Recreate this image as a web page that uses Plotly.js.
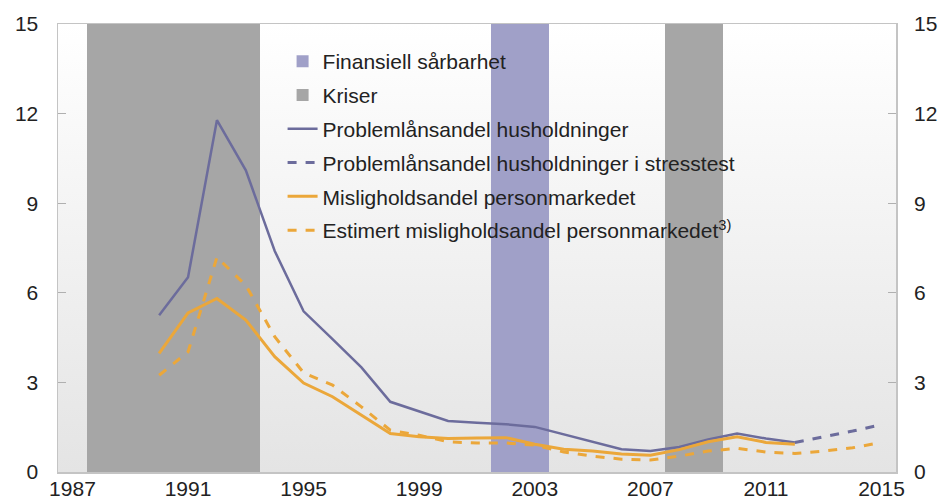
<!DOCTYPE html>
<html>
<head>
<meta charset="utf-8">
<script src="https://cdn.plot.ly/plotly-3.0.1.min.js"></script>
<style>html,body{margin:0;padding:0;background:#fff;}#chart{width:946px;height:504px;}</style>
</head>
<body>
<div id="chart"></div>
<script>
// Years (x categories)
const years = [1987,1988,1989,1990,1991,1992,1993,1994,1995,1996,1997,1998,1999,2000,2001,2002,2003,2004,2005,2006,2007,2008,2009,2010,2011,2012,2013,2014,2015];
const xTickVals = [1987,1991,1995,1999,2003,2007,2011,2015];
const yTickVals = [0,3,6,9,12,15];

// Shaded periods (years flagged)
const kriserYears = [1988,1989,1990,1991,1992,1993,2008,2009];
const sarbarhetYears = [2002,2003];
const bandHeight = 15;

// Problemlånsandel husholdninger (1990-2012)
const probYears = [1990,1991,1992,1993,1994,1995,1996,1997,1998,1999,2000,2001,2002,2003,2004,2005,2006,2007,2008,2009,2010,2011,2012];
const probVals  = [5.25,6.52,11.78,10.1,7.4,5.38,4.45,3.5,2.35,2.02,1.71,1.65,1.6,1.51,1.26,1.01,0.76,0.7,0.84,1.09,1.29,1.12,0.99];

// Problemlånsandel husholdninger i stresstest (2012-2015)
const stressYears = [2012,2013,2014,2015];
const stressVals  = [0.99,1.18,1.37,1.59];

// Misligholdsandel personmarkedet (1990-2012)
const misYears = probYears;
const misVals  = [3.97,5.33,5.81,5.09,3.86,2.98,2.52,1.9,1.29,1.18,1.12,1.14,1.15,0.93,0.76,0.7,0.6,0.56,0.75,1.01,1.18,0.99,0.93];

// Estimert misligholdsandel personmarkedet (1990-2015)
const estYears = [1990,1991,1992,1993,1994,1995,1996,1997,1998,1999,2000,2001,2002,2003,2004,2005,2006,2007,2008,2009,2010,2011,2012,2013,2014,2015];
const estVals  = [3.24,4.02,7.19,6.25,4.53,3.32,2.91,2.18,1.4,1.23,1.01,0.97,0.97,0.9,0.67,0.53,0.43,0.4,0.53,0.7,0.79,0.67,0.62,0.7,0.81,0.99];

const PURPLE = '#6c6c9c';
const ORANGE = '#eba73a';
const FONT = 'Liberation Sans, Arial, sans-serif';

const gradSvg = '<svg xmlns="http://www.w3.org/2000/svg" width="10" height="100" preserveAspectRatio="none"><defs><linearGradient id="g" x1="0" y1="0" x2="0" y2="1"><stop offset="0" stop-color="#ffffff"/><stop offset="1" stop-color="#e4e4e4"/></linearGradient></defs><rect width="10" height="100" fill="url(#g)"/></svg>';
const gradUri = 'data:image/svg+xml;charset=utf-8,' + encodeURIComponent(gradSvg);

const traces = [
  {type:'bar', name:'Finansiell sårbarhet', x:sarbarhetYears, y:sarbarhetYears.map(()=>bandHeight),
   width:1, marker:{color:'#a0a0c8', line:{width:0}}, hoverinfo:'skip', legendgroup:'a'},
  {type:'bar', name:'Kriser', x:kriserYears, y:kriserYears.map(()=>bandHeight),
   width:1, marker:{color:'#a6a6a6', line:{width:0}}, hoverinfo:'skip', legendgroup:'b'},
  {type:'scatter', mode:'lines', name:'Problemlånsandel husholdninger', x:probYears, y:probVals,
   line:{color:PURPLE, width:2.5}, legendgroup:'c'},
  {type:'scatter', mode:'lines', name:'Problemlånsandel husholdninger i stresstest', x:stressYears, y:stressVals,
   line:{color:PURPLE, width:3, dash:'dash'}, legendgroup:'d'},
  {type:'scatter', mode:'lines', name:'Misligholdsandel personmarkedet', x:misYears, y:misVals,
   line:{color:ORANGE, width:3}, legendgroup:'e'},
  {type:'scatter', mode:'lines', name:'Estimert misligholdsandel personmarkedet<sup>3)</sup>', x:estYears, y:estVals,
   line:{color:ORANGE, width:3, dash:'dash'}, legendgroup:'f'},
  {type:'scatter', mode:'lines', x:[years[0]], y:[0], yaxis:'y2', showlegend:false, hoverinfo:'skip', line:{width:0}}
];

const layout = {
  width:946, height:504,
  margin:{l:58, r:50, t:24, b:32},
  paper_bgcolor:'#ffffff',
  plot_bgcolor:'rgba(0,0,0,0)',
  font:{family:FONT, size:20, color:'#222222'},
  barmode:'overlay',
  bargap:0,
  showlegend:true,
  legend:{x:0.268, y:0.962, xanchor:'left', yanchor:'top', bgcolor:'rgba(0,0,0,0)',
          font:{family:FONT, size:21, color:'#222222'}, traceorder:'grouped', tracegroupgap:3.5},
  images:[{source:gradUri, xref:'paper', yref:'paper', x:0, y:1, sizex:1, sizey:1,
           xanchor:'left', yanchor:'top', sizing:'stretch', layer:'below'}],
  xaxis:{range:[1986.5,2015.5], tickvals:xTickVals, ticks:'', showgrid:false, zeroline:false,
         showline:true, linecolor:'#c4c4c4', linewidth:1.5, mirror:true,
         tickfont:{size:21}, ticklabelstandoff:-3},
  yaxis:{range:[0,15], tickvals:yTickVals, ticks:'inside', ticklen:8, tickcolor:'#b0b0b0',
         showgrid:false, zeroline:false, showline:true, linecolor:'#c4c4c4', linewidth:1.5, mirror:true,
         tickfont:{size:21}, ticklabelstandoff:14},
  yaxis2:{range:[0,15], tickvals:yTickVals, overlaying:'y', side:'right', ticks:'inside', ticklen:8,
          tickcolor:'#b0b0b0', showgrid:false, zeroline:false, showline:false,
          tickfont:{size:21}, ticklabelstandoff:17}
};

Plotly.newPlot('chart', traces, layout, {displayModeBar:false, staticPlot:true});
</script>
</body>
</html>
